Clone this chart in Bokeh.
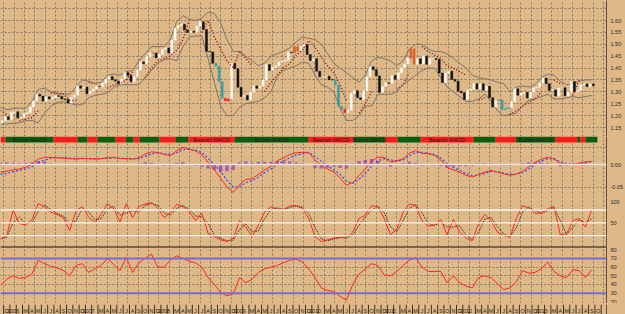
import math
from bokeh.plotting import figure
from bokeh.layouts import column
from bokeh.models import Range1d, FixedTicker, Span, ColumnDataSource, NumeralTickFormatter
from bokeh.core.properties import value
from bokeh.embed import file_html
from bokeh.resources import INLINE

nan = float("nan")

# ---------------- data (x unit: months since Jan 2006) ----------------
first_open = 1.166
# semi-monthly closes, mid-Nov 2005 .. end-Sep 2013
closes = [
    1.170, 1.179, 1.195, 1.184,
    1.213, 1.216, 1.190, 1.192, 1.208, 1.212, 1.236, 1.262, 1.290, 1.282, 1.261, 1.279,
    1.270, 1.276, 1.284, 1.281, 1.270, 1.268, 1.253, 1.276, 1.286, 1.325, 1.315, 1.320,
    1.292, 1.302, 1.312, 1.323, 1.322, 1.336, 1.353, 1.365, 1.351, 1.345, 1.334, 1.354,
    1.381, 1.369, 1.342, 1.364, 1.392, 1.426, 1.418, 1.449, 1.464, 1.463, 1.443, 1.459,
    1.479, 1.484, 1.463, 1.518, 1.567, 1.579, 1.584, 1.560, 1.550, 1.555, 1.551, 1.576,
    1.595, 1.562, 1.470, 1.468, 1.420, 1.408, 1.343, 1.273, 1.262, 1.270, 1.420, 1.397,
    1.319, 1.280, 1.285, 1.266, 1.300, 1.325, 1.315, 1.324, 1.350, 1.415, 1.390, 1.403,
    1.410, 1.425, 1.430, 1.433, 1.466, 1.464, 1.490, 1.472, 1.490, 1.499, 1.457, 1.432,
    1.439, 1.387, 1.363, 1.363, 1.366, 1.351, 1.350, 1.329, 1.239, 1.227, 1.213, 1.223,
    1.294, 1.305, 1.275, 1.268, 1.304, 1.363, 1.405, 1.393, 1.367, 1.298, 1.322, 1.338,
    1.336, 1.369, 1.353, 1.380, 1.400, 1.417, 1.442, 1.481, 1.416, 1.439, 1.418, 1.450,
    1.416, 1.439, 1.440, 1.436, 1.379, 1.339, 1.379, 1.387, 1.352, 1.345, 1.303, 1.296,
    1.268, 1.308, 1.311, 1.334, 1.312, 1.334, 1.307, 1.323, 1.275, 1.236, 1.263, 1.266,
    1.226, 1.230, 1.234, 1.258, 1.313, 1.286, 1.294, 1.298, 1.274, 1.299, 1.317, 1.319,
    1.337, 1.358, 1.334, 1.306, 1.308, 1.282, 1.316, 1.317, 1.284, 1.299, 1.343, 1.301,
    1.306, 1.330, 1.333, 1.322, 1.333, 1.326,
]
# candle highlight periods (start month, end month, kind)
alerts = [(22.4, 23.2, "high"), (32.3, 33.8, "falling"), (33.8, 35.0, "extreme"),
          (45.0, 46.2, "high"), (51.4, 52.9, "falling"), (52.9, 53.6, "extreme"),
          (63.5, 64.3, "high"), (77.6, 79.3, "falling")]

# monthly indicator values, mid-Nov 2005 .. mid-Sep 2013
bb_upper = [1.235, 1.225, 1.230, 1.232, 1.230, 1.260, 1.310, 1.315, 1.300, 1.295,
            1.292, 1.290, 1.320, 1.350, 1.345, 1.335, 1.340, 1.370, 1.375, 1.370,
            1.385, 1.390, 1.430, 1.460, 1.490, 1.490, 1.490, 1.520, 1.595, 1.620,
            1.605, 1.600, 1.610, 1.635, 1.630, 1.590, 1.520, 1.470, 1.470, 1.450,
            1.430, 1.410, 1.420, 1.450, 1.460, 1.470, 1.485, 1.510, 1.530, 1.525,
            1.520, 1.500, 1.460, 1.420, 1.400, 1.380, 1.360, 1.340, 1.370, 1.430,
            1.445, 1.440, 1.430, 1.410, 1.430, 1.480, 1.500, 1.500, 1.480, 1.470,
            1.470, 1.460, 1.440, 1.420, 1.400, 1.370, 1.360, 1.355, 1.350, 1.340,
            1.335, 1.300, 1.320, 1.325, 1.320, 1.330, 1.360, 1.375, 1.370, 1.345,
            1.330, 1.335, 1.345, 1.350, 1.350]
bb_lower = [1.165, 1.165, 1.168, 1.170, 1.178, 1.180, 1.170, 1.210, 1.240, 1.255,
            1.258, 1.252, 1.245, 1.245, 1.275, 1.285, 1.290, 1.295, 1.320, 1.330,
            1.330, 1.330, 1.330, 1.360, 1.390, 1.420, 1.435, 1.440, 1.430, 1.490,
            1.530, 1.535, 1.535, 1.440, 1.340, 1.240, 1.200, 1.200, 1.235, 1.250,
            1.255, 1.260, 1.275, 1.300, 1.365, 1.390, 1.400, 1.410, 1.425, 1.420,
            1.370, 1.330, 1.320, 1.300, 1.230, 1.180, 1.180, 1.200, 1.240, 1.240,
            1.290, 1.290, 1.290, 1.300, 1.330, 1.350, 1.370, 1.390, 1.400, 1.400,
            1.360, 1.320, 1.300, 1.280, 1.260, 1.260, 1.270, 1.290, 1.260, 1.220,
            1.200, 1.205, 1.210, 1.240, 1.265, 1.270, 1.280, 1.290, 1.270, 1.270,
            1.275, 1.280, 1.275, 1.280, 1.285]
sar = [1.222, 1.205, nan, 1.178, 1.185, 1.192, 1.220, nan, 1.295, 1.292,
       1.290, 1.265, 1.262, nan, 1.340, 1.335, nan, 1.315, 1.330, 1.335,
       1.350, 1.385, nan, 1.360, 1.400, 1.430, 1.440, 1.450, 1.475, 1.520,
       1.600, nan, 1.550, 1.600, 1.530, 1.480, 1.430, 1.400, 1.470, 1.440,
       1.410, nan, 1.300, 1.340, 1.370, 1.400, 1.420, 1.455, 1.475, 1.515,
       1.490, 1.445, 1.410, 1.380, 1.330, 1.260, nan, 1.210, 1.250, 1.300,
       nan, 1.420, nan, 1.310, 1.330, 1.380, nan, 1.490, 1.470, 1.455,
       1.440, 1.410, 1.400, 1.385, 1.370, nan, 1.265, 1.275, nan, 1.340,
       nan, 1.205, 1.220, 1.240, 1.255, 1.270, 1.300, nan, 1.350, 1.335,
       nan, 1.285, 1.350, nan, 1.290]
macd = [-0.017, -0.015, -0.012, -0.010, -0.006, 0.000, 0.012, 0.016, 0.016, 0.015,
        0.014, 0.013, 0.012, 0.014, 0.013, 0.012, 0.013, 0.015, 0.016, 0.013,
        0.013, 0.012, 0.015, 0.023, 0.028, 0.027, 0.022, 0.020, 0.030, 0.038,
        0.034, 0.030, 0.022, 0.005, -0.012, -0.031, -0.050, -0.062, -0.045, -0.033,
        -0.032, -0.022, -0.012, -0.004, 0.008, 0.015, 0.022, 0.026, 0.027, 0.027,
        0.010, -0.002, -0.010, -0.017, -0.030, -0.046, -0.040, -0.025, -0.010, 0.008,
        0.016, 0.016, 0.005, 0.008, 0.013, 0.025, 0.031, 0.025, 0.024, 0.020,
        0.010, -0.006, -0.012, -0.017, -0.024, -0.028, -0.022, -0.017, -0.013, -0.017,
        -0.021, -0.024, -0.021, -0.015, -0.005, 0.005, 0.012, 0.016, 0.012, 0.002,
        0.000, 0.000, 0.003, 0.006, 0.007]
signal = [-0.022, -0.020, -0.016, -0.013, -0.010, -0.005, 0.004, 0.010, 0.014, 0.015,
          0.015, 0.014, 0.013, 0.013, 0.013, 0.013, 0.013, 0.014, 0.015, 0.014,
          0.013, 0.013, 0.013, 0.018, 0.024, 0.026, 0.024, 0.022, 0.026, 0.033,
          0.034, 0.032, 0.027, 0.014, 0.000, -0.015, -0.035, -0.050, -0.050, -0.040,
          -0.036, -0.028, -0.018, -0.010, 0.000, 0.008, 0.015, 0.021, 0.024, 0.026,
          0.018, 0.007, -0.003, -0.012, -0.022, -0.037, -0.042, -0.033, -0.020, -0.004,
          0.008, 0.013, 0.010, 0.008, 0.010, 0.019, 0.027, 0.027, 0.025, 0.022,
          0.014, 0.002, -0.007, -0.013, -0.020, -0.025, -0.024, -0.020, -0.015, -0.016,
          -0.019, -0.022, -0.022, -0.018, -0.010, 0.000, 0.008, 0.013, 0.013, 0.006,
          0.002, 0.001, 0.002, 0.004, 0.006]
stoch_k = [12, 20, 80, 48, 45, 58, 95, 88, 75, 69,
           62, 32, 78, 88, 64, 50, 70, 95, 83, 52,
           95, 62, 88, 94, 97, 85, 62, 74, 93, 88,
           77, 55, 73, 25, 17, 10, 6, 13, 55, 40,
           17, 45, 75, 88, 82, 81, 90, 90, 84, 60,
           18, 6, 10, 14, 16, 14, 28, 60, 68, 90,
           88, 60, 22, 35, 75, 94, 91, 55, 42, 45,
           58, 22, 58, 28, 14, 8, 48, 70, 55, 28,
           20, 16, 60, 90, 85, 72, 73, 83, 88, 22,
           24, 55, 60, 40, 80]
rsi = [39, 46, 50, 47, 48, 52, 68, 64, 61, 59,
       56, 50, 62, 64, 54, 58, 62, 70, 63, 56,
       71, 54, 65, 70, 75, 60, 60, 68, 73, 70,
       67, 65, 60, 48, 40, 31, 27, 29, 48, 42,
       46, 54, 58, 60, 62, 65, 68, 69, 66, 58,
       48, 36, 33, 32, 26, 22, 40, 52, 58, 64,
       62, 51, 50, 55, 62, 68, 71, 60, 55, 55,
       55, 42, 50, 42, 38, 36, 48, 50, 48, 41,
       34, 36, 43, 56, 53, 54, 58, 66, 55, 50,
       48, 57, 56, 48, 57]
# MACD state strip: (start month, end month, state)
macd_states = [(-1.5, -0.7, "Bearish"), (-0.7, 6.9, "Bullish"), (6.9, 10.75, "Bearish"),
               (10.75, 12.35, "Bullish"), (12.35, 13.9, "Bearish"), (13.9, 16.8, "Bullish"),
               (16.8, 18.4, "Bearish"), (18.4, 19.65, "Bullish"), (19.65, 20.6, "Bearish"),
               (20.6, 23.8, "Bullish"), (23.8, 26.3, "Bearish"), (26.3, 28.4, "Bullish"),
               (28.4, 35.7, "Bearish"), (35.7, 47.5, "Bullish"), (47.5, 54.6, "Bearish"),
               (54.6, 59.7, "Bullish"), (59.7, 61.6, "Bearish"), (61.6, 65.3, "Bullish"),
               (65.3, 73.7, "Bearish"), (73.7, 77.2, "Bullish"), (77.2, 80.4, "Bearish"),
               (80.4, 86.7, "Bullish"), (86.7, 90.2, "Bearish"), (90.2, 90.7, "Bullish"),
               (90.7, 91.5, "Bearish"), (91.5, 93.4, "Bullish")]
month_letters = ["J", "F", "M", "A", "M", "J", "J", "A", "S", "O", "N", "D"]
price_ticks = [1.15, 1.20, 1.25, 1.30, 1.35, 1.40, 1.45, 1.50, 1.55, 1.60]
macd_ticks = [-0.05, 0.0]
stoch_ticks = [50, 100]
stoch_levels = [20, 50, 80]
rsi_ticks = [20, 30, 40, 50, 60, 70, 80]
rsi_levels = [30, 70]

# ---------------- styling ----------------
BG = "#DEB887"
FONT = "Liberation Sans"
X0 = -1.5
PXM = 6.29
FW = 606
XEND = X0 + FW / PXM
xr = Range1d(X0, XEND)
vgrid = [X0 + (3.3 + 10.34 * j) / PXM for j in range(59)]


def panel(h, y0, y1, ticks=None, fmt="0.00", hgrid=None, axis=True):
    p = figure(frame_width=FW, frame_height=h, x_range=xr, y_range=Range1d(y0, y1),
               output_backend="svg", toolbar_location=None, y_axis_location="right",
               min_border_left=0, min_border_right=19, min_border_top=0, min_border_bottom=0,
               background_fill_color=BG, border_fill_color=BG, outline_line_color=None)
    p.xaxis.visible = False
    p.xgrid.ticker = FixedTicker(ticks=vgrid)
    p.xgrid.grid_line_color = "#857a6c"
    p.xgrid.grid_line_dash = "2 2"
    p.ygrid.ticker = FixedTicker(ticks=hgrid or [])
    p.ygrid.grid_line_color = "#857a6c"
    p.ygrid.grid_line_dash = "2 2"
    ax = p.yaxis[0]
    ax.ticker = FixedTicker(ticks=ticks or [])
    ax.formatter = NumeralTickFormatter(format=fmt)
    ax.axis_line_color = "#5a5048"
    ax.major_tick_line_color = None
    ax.minor_tick_line_color = None
    ax.major_tick_out = 0
    ax.major_tick_in = 0
    ax.minor_tick_out = 0
    ax.minor_tick_in = 0
    ax.major_label_text_font = FONT
    ax.major_label_text_font_size = "5.5px"
    ax.major_label_text_color = "#2a2a2a"
    ax.major_label_standoff = 4
    if not axis:
        ax.major_label_text_alpha = 0
    return p


# ----- price panel -----
pp = panel(136, 1.6 - 116 / 237.8, 1.6 + 20 / 237.8, price_ticks, "0.00",
           [1.15, 1.20, 1.25, 1.30, 1.35, 1.40, 1.45, 1.50, 1.55, 1.60, 1.65])
mx = [X0 + k for k in range(len(macd))]
pp.line(mx, bb_upper, line_color="#7d7468", line_width=1)
pp.line(mx, bb_lower, line_color="#7d7468", line_width=1)

cx, top, bot, col = [], [], [], []
prev = first_open
for i, c in enumerate(closes):
    x = X0 + 0.5 * i - 0.25
    up = c >= prev
    color = "#fbf8f2" if up else "#121212"
    for a, b, kind in alerts:
        if a <= x < b:
            color = {"high": "#d8602a", "falling": "#3a9fa5", "extreme": "#ff2020"}[kind]
    cx.append(x); top.append(max(c, prev)); bot.append(min(c, prev)); col.append(color)
    prev = c
src = ColumnDataSource(dict(x=cx, top=top, bottom=bot, color=col))
pp.vbar(x="x", top="top", bottom="bottom", width=0.32, fill_color="color",
        line_color="color", line_width=0.5, source=src)
pp.line(mx, sar, line_color="#9a1010", line_width=1.5, line_dash="1 2")

# ----- MACD panel with state strip on top -----
MH = 61
pm = panel(MH, -33 / 450, 28 / 450, macd_ticks, "0.00", [-0.05, 0.038])
pm.extra_y_ranges = {"strip": Range1d(-(MH - 6) / 6, 1)}
sx = [(a + b) / 2 for a, b, s in macd_states]
sw = [b - a for a, b, s in macd_states]
sc = ["#0a5c10" if s == "Bullish" else "#ff1a1a" for a, b, s in macd_states]
pm.rect(x=sx, y=0.5, width=sw, height=1, fill_color=sc, line_color=None, y_range_name="strip")
lab = [(a, b, s) for a, b, s in macd_states if b - a >= 4.5]
pm.text(x=[(a + b) / 2 for a, b, s in lab], y=0.45, text=[s + " MACD" for a, b, s in lab],
        text_align="center", text_baseline="middle", text_font=value(FONT),
        text_font_size="5.5px", text_color="#1a1a1a", y_range_name="strip")
hist = [m - s for m, s in zip(macd, signal)]
pm.vbar(x=mx, top=hist, bottom=0, width=0.55, fill_color="#9a3fc2", line_color=None, fill_alpha=0.75)
pm.add_layout(Span(location=0, dimension="width", line_color="#f2e4e4", line_width=1.5))
pm.line(mx, signal, line_color="#3546ff", line_width=1.2, line_dash="2 2")
pm.line(mx, macd, line_color="#ff2a1a", line_width=1)

# ----- Stochastic panel -----
pst = panel(49, 50 - 23.7 / 0.426, 100 + 4 / 0.426, stoch_ticks, "0")
for lv in stoch_levels:
    pst.add_layout(Span(location=lv, dimension="width", line_color="#fbf6ee", line_width=1.3))
stoch_d = [sum(stoch_k[max(0, k - 1):k + 1]) / len(stoch_k[max(0, k - 1):k + 1]) for k in range(len(stoch_k))]
pst.line(mx, stoch_d, line_color="#1a1a1a", line_width=1, line_dash="1 1")
pst.line(mx, stoch_k, line_color="#ff2a1a", line_width=1)

# ----- RSI panel -----
pr = panel(57, 20 - 1.7 / 0.867, 80 + 3.3 / 0.867, rsi_ticks, "0", [40, 50, 60])
for lv in rsi_levels:
    pr.add_layout(Span(location=lv, dimension="width", line_color="#7a6ad8", line_width=2))
pr.add_layout(Span(location=80 + 3.0 / 0.867, dimension="width", line_color="#111111", line_width=1.5))
pr.line(mx, rsi, line_color="#ff2a1a", line_width=1)

# ----- month axis -----
pa = panel(11, 0, 1, None, axis=False)
pa.xgrid.visible = False
months = list(range(-1, 95))
pa.segment(x0=months, y0=0, x1=months, y1=1, line_color="#3a3028", line_width=1)
mlab, mpos = [], []
for m in months:
    cm = m % 12
    if cm == 1:
        continue
    c = m + 0.5
    if c - X0 < 0.5 or XEND - c < 0.6:
        continue
    mlab.append(str(2006 + m // 12) if cm == 0 else month_letters[cm])
    mpos.append(c)
pa.text(x=mpos, y=0.45, text=mlab, text_align="center", text_baseline="middle",
        text_font=value(FONT), text_font_size="5.5px", text_color="#222222")

layout = column(pp, pm, pst, pr, pa, spacing=0, background=BG)
html = file_html(layout, INLINE, "chart")
html = html.replace("<body>", '<body style="margin:0;background:%s">' % BG)
open("out.html", "w").write(html)
